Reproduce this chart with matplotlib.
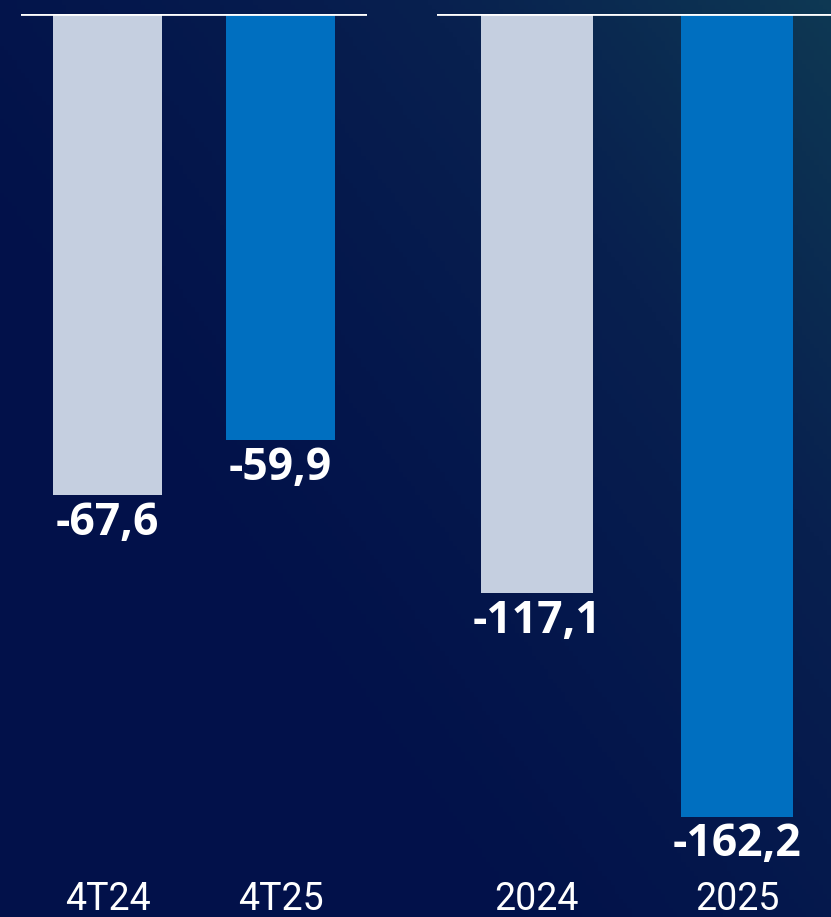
import numpy as np
import matplotlib
import matplotlib.pyplot as plt
from matplotlib.colors import LinearSegmentedColormap
import matplotlib.transforms as mtransforms

matplotlib.use("Agg")

quarters = ["4T24", "4T25"]
quarter_values = [-67.6, -59.9]
years = ["2024", "2025"]
year_values = [-117.1, -162.2]
bar_colors = ["#c5cfe0", "#006fc0"]

W, H = 831, 917
fig = plt.figure(figsize=(W / 100, H / 100), dpi=100)

# background gradient: navy bottom-left to teal-ish top-right
bg = fig.add_axes([0, 0, 1, 1])
bg.axis("off")
xx, yy = np.meshgrid(np.linspace(0, 1, 200), np.linspace(0, 1, 200))
t = np.clip(0.75 * xx + 0.6 * yy - 0.4, 0, 1) ** 1.3
cmap = LinearSegmentedColormap.from_list("bg", ["#02114a", "#08204f", "#0f3c54"])
bg.imshow(t, cmap=cmap, origin="lower", extent=[0, 1, 0, 1], aspect="auto", vmin=0, vmax=1)
bg.set_xlim(0, 1)
bg.set_ylim(0, 1)


def px_axes(x0, x1, y_top, y_bot):
    return fig.add_axes([x0 / W, 1 - y_bot / H, (x1 - x0) / W, (y_bot - y_top) / H])


def draw_panel(ax, labels, values, width, xlim, ylim):
    x = np.arange(len(labels))
    ax.bar(x, values, width, color=bar_colors, zorder=2)
    ax.axhline(0, color="white", lw=2, zorder=3)
    ax.set_xlim(*xlim)
    ax.set_ylim(*ylim)
    ax.axis("off")
    for i, v in enumerate(values):
        ax.annotate(f"{v:.1f}".replace(".", ","), (i, v), xytext=(0, -4),
                    textcoords="offset points", ha="center", va="top",
                    color="white", fontsize=32, fontweight="bold", family="Open Sans")
    trans = mtransforms.blended_transform_factory(ax.transData, fig.transFigure)
    for i, lab in enumerate(labels):
        ax.text(i, 1 - 899 / H, lab, transform=trans, ha="center", va="center",
                color="white", fontsize=27, family="Roboto")


ax1 = px_axes(21, 367, 14, 917)
draw_panel(ax1, quarters, quarter_values, 109 / 173, (-0.5, 1.5), (-903 / 7.115, 0))

ax2 = px_axes(437, 831, 14, 917)
draw_panel(ax2, years, year_values, 112 / 200, (-0.5, 1.47), (-903 / 4.948, 0))

fig.savefig("out.png", dpi=100)
plt.close(fig)
